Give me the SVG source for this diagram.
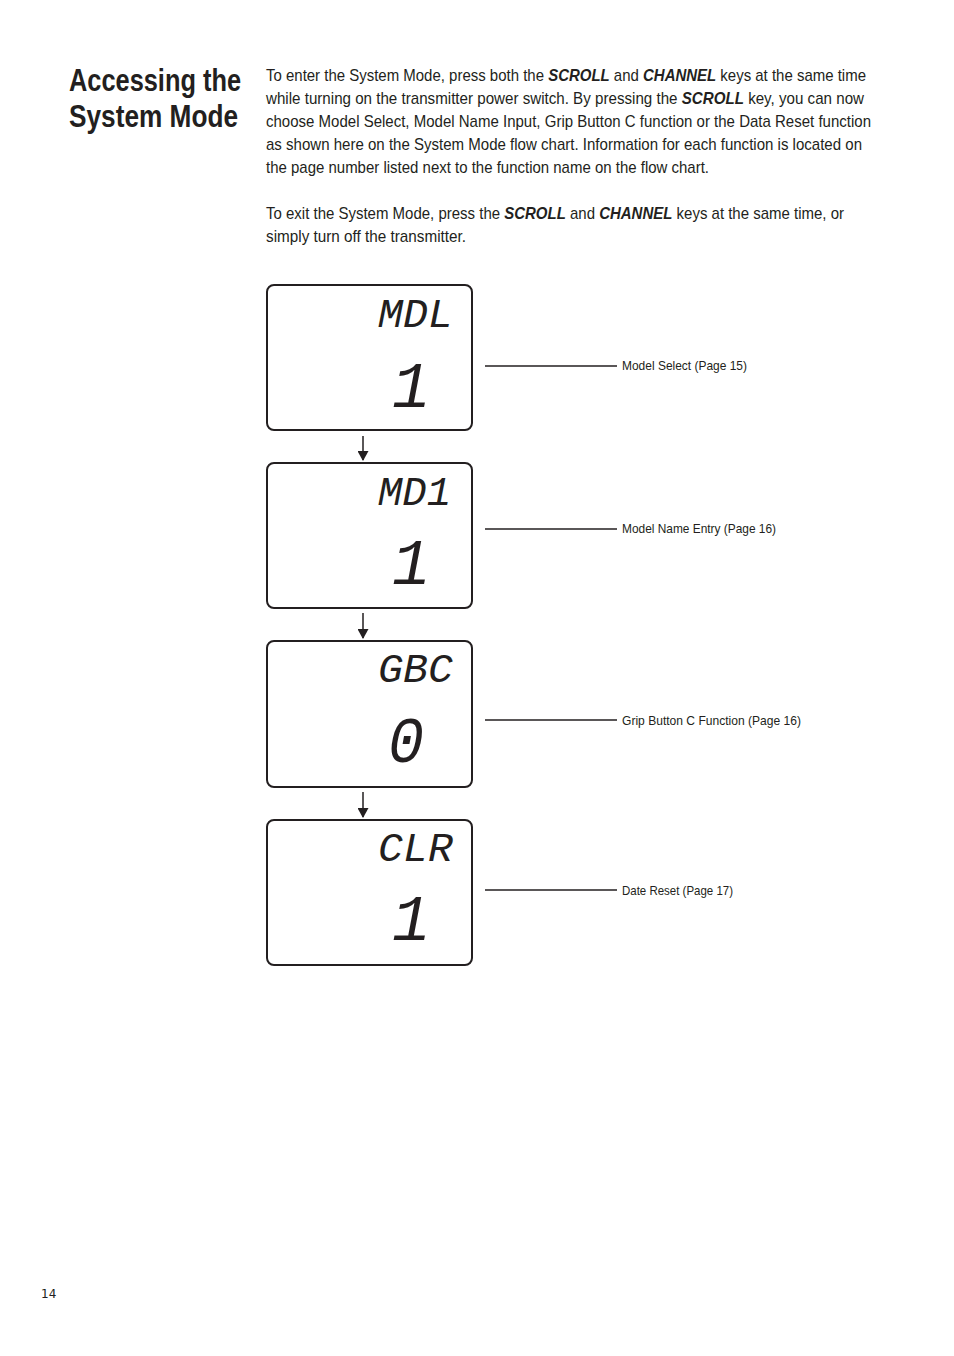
<svg xmlns="http://www.w3.org/2000/svg" width="954" height="1356" viewBox="0 0 954 1356">
<style>
.h{font-family:"Liberation Sans",sans-serif;font-weight:bold;font-size:32px;fill:#231f20}
.b{font-family:"Liberation Sans",sans-serif;font-size:17px;fill:#231f20}
.k{font-weight:bold;font-style:italic}
.l{font-family:"Liberation Sans",sans-serif;font-size:13px;fill:#231f20}
.box{fill:#fff;stroke:#231f20;stroke-width:2}
.lcd{font-family:"Liberation Mono",monospace;font-style:italic;fill:#231f20}
.t{font-size:40px}
.d{font-size:64px}
.c line{stroke:#231f20;stroke-width:1.5}
</style>
<defs><marker id="a" markerWidth="10" markerHeight="11" refX="9" refY="5.5" orient="auto" markerUnits="userSpaceOnUse"><path d="M0,0 L10,5.5 L0,11 z" fill="#231f20"/></marker></defs>
<rect width="954" height="1356" fill="#fff"/>
<text class="h" x="69" y="91" textLength="172" lengthAdjust="spacingAndGlyphs">Accessing the</text>
<text class="h" x="69" y="127" textLength="169" lengthAdjust="spacingAndGlyphs">System Mode</text>
<g class="b">
<text x="266" y="81" textLength="600" lengthAdjust="spacingAndGlyphs">To enter the System Mode, press both the <tspan class="k">SCROLL</tspan> and <tspan class="k">CHANNEL</tspan> keys at the same time</text>
<text x="266" y="104" textLength="598" lengthAdjust="spacingAndGlyphs">while turning on the transmitter power switch. By pressing the <tspan class="k">SCROLL</tspan> key, you can now</text>
<text x="266" y="127" textLength="605" lengthAdjust="spacingAndGlyphs">choose Model Select, Model Name Input, Grip Button C function or the Data Reset function</text>
<text x="266" y="150" textLength="596" lengthAdjust="spacingAndGlyphs">as shown here on the System Mode flow chart. Information for each function is located on</text>
<text x="266" y="173" textLength="443" lengthAdjust="spacingAndGlyphs">the page number listed next to the function name on the flow chart.</text>
<text x="266" y="219" textLength="578" lengthAdjust="spacingAndGlyphs">To exit the System Mode, press the <tspan class="k">SCROLL</tspan> and <tspan class="k">CHANNEL</tspan> keys at the same time, or</text>
<text x="266" y="242" textLength="200" lengthAdjust="spacingAndGlyphs">simply turn off the transmitter.</text>
</g>
<g class="c">
<line x1="363" y1="436" x2="363" y2="460" marker-end="url(#a)"/>
<line x1="363" y1="613" x2="363" y2="638" marker-end="url(#a)"/>
<line x1="363" y1="792" x2="363" y2="817" marker-end="url(#a)"/>
<line x1="485" y1="366" x2="617" y2="366"/>
<line x1="485" y1="529" x2="617" y2="529"/>
<line x1="485" y1="720" x2="617" y2="720"/>
<line x1="485" y1="890" x2="617" y2="890"/>
</g>
<g id="n1"><rect class="box" x="267" y="285" width="205" height="145" rx="7"/>
<text class="lcd t" x="378" y="327" textLength="75" lengthAdjust="spacingAndGlyphs">MDL</text>
<text class="lcd d" x="392" y="407">1</text></g>
<g id="n2"><rect class="box" x="267" y="463" width="205" height="145" rx="7"/>
<text class="lcd t" x="378" y="505" textLength="73" lengthAdjust="spacingAndGlyphs">MD1</text>
<text class="lcd d" x="392" y="584">1</text></g>
<g id="n3"><rect class="box" x="267" y="641" width="205" height="146" rx="7"/>
<text class="lcd t" x="378" y="682" textLength="75" lengthAdjust="spacingAndGlyphs">GBC</text>
<text class="lcd d" x="388" y="762" textLength="36" lengthAdjust="spacingAndGlyphs">0</text></g>
<g id="n4"><rect class="box" x="267" y="820" width="205" height="145" rx="7"/>
<text class="lcd t" x="378" y="861" textLength="75" lengthAdjust="spacingAndGlyphs">CLR</text>
<text class="lcd d" x="392" y="940">1</text></g>
<g class="l">
<text x="622" y="370" textLength="125" lengthAdjust="spacingAndGlyphs">Model Select (Page 15)</text>
<text x="622" y="533" textLength="154" lengthAdjust="spacingAndGlyphs">Model Name Entry (Page 16)</text>
<text x="622" y="725" textLength="179" lengthAdjust="spacingAndGlyphs">Grip Button C Function (Page 16)</text>
<text x="622" y="895" textLength="111" lengthAdjust="spacingAndGlyphs">Date Reset (Page 17)</text>
</g>
<text x="41" y="1298" style="font-family:'DejaVu Sans',sans-serif;font-size:12px;fill:#231f20">14</text>
</svg>
